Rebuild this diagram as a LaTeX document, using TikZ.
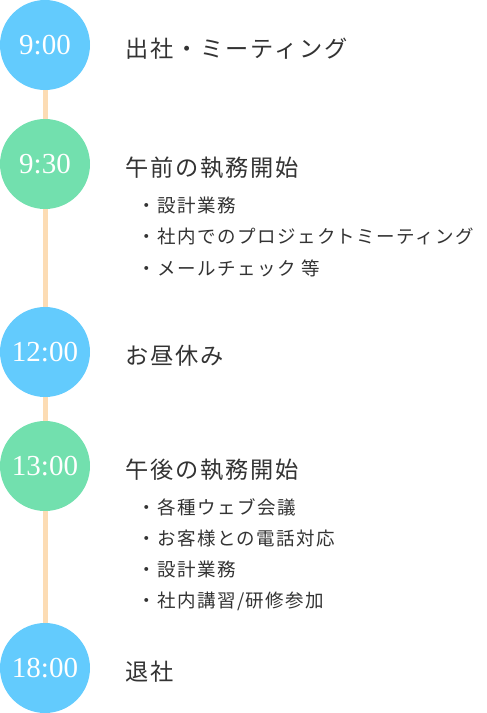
\documentclass[tikz,border=0pt]{standalone}
\usepackage{fontspec}
\newfontfamily\jpfont[LetterSpace=8]{Noto Sans CJK JP}
\newfontfamily\numfont{Liberation Serif}
\definecolor{tblue}{HTML}{63CBFD}
\definecolor{tgreen}{HTML}{72E0AE}
\definecolor{tline}{HTML}{FCDCB4}
\definecolor{ttext}{HTML}{333333}
\begin{document}
\begin{tikzpicture}[x=1pt,y=-1pt,
  timedot/.style={circle,minimum size=90pt,inner sep=0pt,text=white,font=\numfont\fontsize{29}{29}\selectfont},
  heading/.style={anchor=west,inner sep=0pt,text=ttext,font=\jpfont\fontsize{23.2}{25}\selectfont},
  item/.style={anchor=west,inner sep=0pt,text=ttext,font=\jpfont\fontsize{18.5}{20}\selectfont}]
\useasboundingbox (0,0) rectangle (487,713);
\node[timedot,fill=tblue]  (t1) at (45,45)  {9:00};
\node[timedot,fill=tgreen] (t2) at (45,164) {9:30};
\node[timedot,fill=tblue]  (t3) at (45,352) {12:00};
\node[timedot,fill=tgreen] (t4) at (45,466) {13:00};
\node[timedot,fill=tblue]  (t5) at (45,668) {18:00};
\draw[tline,line width=5pt] (t1.south) -- (t2.north);
\draw[tline,line width=5pt] (t2.south) -- (t3.north);
\draw[tline,line width=5pt] (t3.south) -- (t4.north);
\draw[tline,line width=5pt] (t4.south) -- (t5.north);
\node[heading] (h1) at (125,49) {出社・ミーティング};
\node[heading] (h2) at (125,168) {午前の執務開始};
\node[item] (i21) at (137,205) {・設計業務};
\node[item] (i22) at (137,236) {・社内でのプロジェクトミーティング};
\node[item] (i23) at (137,268) {・メールチェック 等};
\node[heading] (h3) at (125,356) {お昼休み};
\node[heading] (h4) at (125,470) {午後の執務開始};
\node[item] (i41) at (137,507) {・各種ウェブ会議};
\node[item] (i42) at (137,538) {・お客様との電話対応};
\node[item] (i43) at (137,569) {・設計業務};
\node[item] (i44) at (137,601) {・社内講習/研修参加};
\node[heading] (h5) at (125,672) {退社};
\end{tikzpicture}
\end{document}
